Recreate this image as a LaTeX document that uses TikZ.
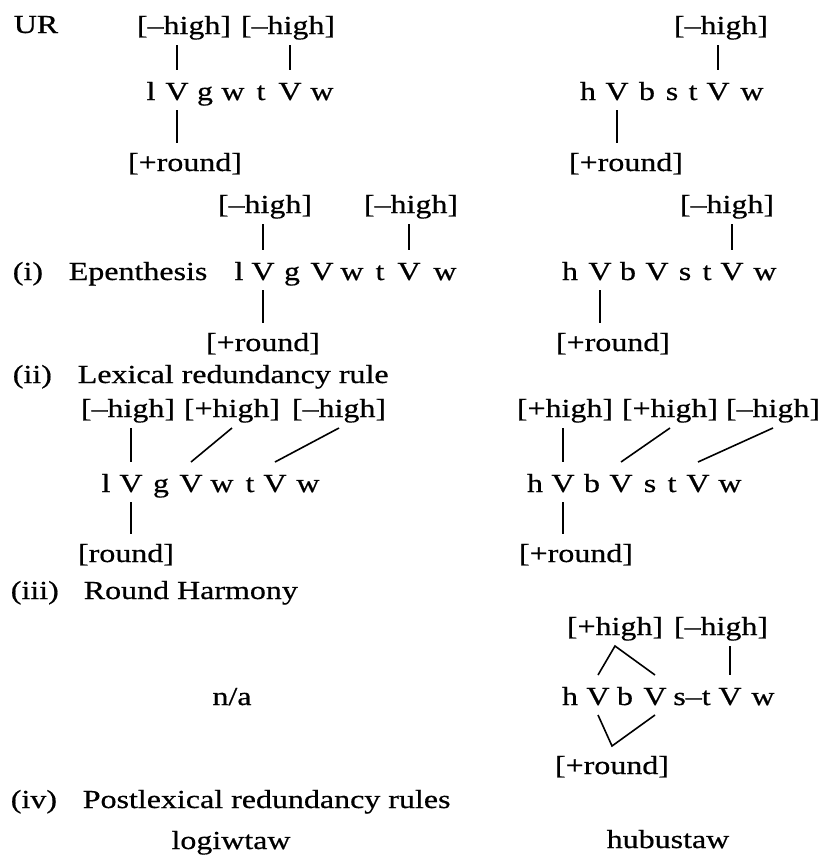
\documentclass[tikz,border=0pt]{standalone}
\usepackage{fontspec}
\setmainfont{Liberation Serif}[FakeStretch=1.23,FakeBold=0.6]

\begin{document}
\begin{tikzpicture}[x=1pt,y=-1pt,line width=1.6pt,
  every node/.style={font=\fontsize{26}{30}\selectfont},
  feat/.style={inner sep=0pt,outer sep=4pt,text height=24pt,text depth=7pt,anchor=base},
  seg/.style={inner sep=0pt,outer sep=4pt,text height=26pt,text depth=6pt,anchor=base},
  lbl/.style={inner sep=0pt,anchor=base west}]
\useasboundingbox (0,0) rectangle (819,857);
% labels
\node[lbl] (ur) at (13,33) {UR};
\node[lbl] (ri) at (12,280) {(i)};
\node[lbl] (epen) at (68,280) {Epenthesis};
\node[lbl] (rii) at (12,383) {(ii)};
\node[lbl] (lex) at (77,383) {Lexical redundancy rule};
\node[lbl] (riii) at (10,599) {(iii)};
\node[lbl] (harm) at (83,599) {Round Harmony};
\node[lbl] (riv) at (10,808) {(iv)};
\node[lbl] (post) at (82,808) {Postlexical redundancy rules};
\node[anchor=base] (na) at (232,705) {n/a};
\node[anchor=base] (logi) at (231,849) {logiwtaw};
\node[anchor=base] (hubu) at (668,848) {hubustaw};
% UR
\foreach \n/\x/\t in {1/151/l,2/177/V,3/205/g,4/233/w,5/261/t,6/290/V,7/322/w}
  \node[seg] (urL\n) at (\x,100) {\t};
\node[feat] (urLh1) at (184,34) {[--high]};
\node[feat] (urLh2) at (288,34) {[--high]};
\node[feat] (urLr) at (185,171) {[+round]};
\draw (urL2.north |- urLh1.south) -- (urL2.north);
\draw (urL6.north |- urLh2.south) -- (urL6.north);
\draw (urL2.south) -- (urL2.south |- urLr.north);
\foreach \n/\x/\t in {1/588/h,2/617/V,3/647/b,4/672/s,5/693/t,6/718/V,7/752/w}
  \node[seg] (urR\n) at (\x,100) {\t};
\node[feat] (urRh1) at (721,34) {[--high]};
\node[feat] (urRr) at (626,171) {[+round]};
\draw (urR6.north |- urRh1.south) -- (urR6.north);
\draw (urR2.south) -- (urR2.south |- urRr.north);
% (i)
\foreach \n/\x/\t in {1/239/l,2/263/V,3/292/g,4/322/V,5/352/w,6/380/t,7/409/V,8/445/w}
  \node[seg] (epL\n) at (\x,280) {\t};
\node[feat] (epLh1) at (265,213) {[--high]};
\node[feat] (epLh2) at (411,213) {[--high]};
\node[feat] (epLr) at (263,351) {[+round]};
\draw (epL2.north |- epLh1.south) -- (epL2.north);
\draw (epL7.north |- epLh2.south) -- (epL7.north);
\draw (epL2.south) -- (epL2.south |- epLr.north);
\foreach \n/\x/\t in {1/570/h,2/600/V,3/628/b,4/657/V,5/685/s,6/707/t,7/732/V,8/765/w}
  \node[seg] (epR\n) at (\x,280) {\t};
\node[feat] (epRh1) at (727,213) {[--high]};
\node[feat] (epRr) at (613,351) {[+round]};
\draw (epR7.north |- epRh1.south) -- (epR7.north);
\draw (epR2.south) -- (epR2.south |- epRr.north);
% (ii)
\foreach \n/\x/\t in {1/106/l,2/131/V,3/161/g,4/191/V,5/222/w,6/250/t,7/275/V,8/308/w}
  \node[seg] (lxL\n) at (\x,492) {\t};
\node[feat] (lxLh1) at (128,417) {[--high]};
\node[feat] (lxLh2) at (232,417) {[+high]};
\node[feat] (lxLh3) at (339,417) {[--high]};
\node[feat] (lxLr) at (126,562) {[round]};
\draw (lxL2.north |- lxLh1.south) -- (lxL2.north);
\draw (lxL4.north) -- (lxLh2.south);
\draw (lxL7.north) -- (lxLh3.south);
\draw (lxL2.south) -- (lxL2.south |- lxLr.north);
\foreach \n/\x/\t in {1/535/h,2/563/V,3/592/b,4/621/V,5/650/s,6/672/t,7/698/V,8/730/w}
  \node[seg] (lxR\n) at (\x,492) {\t};
\node[feat] (lxRh1) at (565,417) {[+high]};
\node[feat] (lxRh2) at (670,417) {[+high]};
\node[feat] (lxRh3) at (773,417) {[--high]};
\node[feat] (lxRr) at (576,562) {[+round]};
\draw (lxR2.north |- lxRh1.south) -- (lxR2.north);
\draw (lxR4.north) -- (lxRh2.south);
\draw (lxR7.north) -- (lxRh3.south);
\draw (lxR2.south) -- (lxR2.south |- lxRr.north);
% (iii)
\foreach \n/\x/\t in {1/570/h,2/598/V,3/625/b,4/655/V,5/692/s--t,6/730/V,7/763/w}
  \node[seg] (rhR\n) at (\x,705) {\t};
\node[feat] (rhRh1) at (615,635) {[+high]};
\node[feat] (rhRh2) at (721,635) {[--high]};
\node[feat] (rhRr) at (612,774) {[+round]};
\draw (rhR2.north) -- (rhRh1.south) -- (rhR4.north);
\draw (rhR6.north |- rhRh2.south) -- (rhR6.north);
\draw (rhR2.south) -- (rhRr.north) -- (rhR4.south);
\end{tikzpicture}
\end{document}
